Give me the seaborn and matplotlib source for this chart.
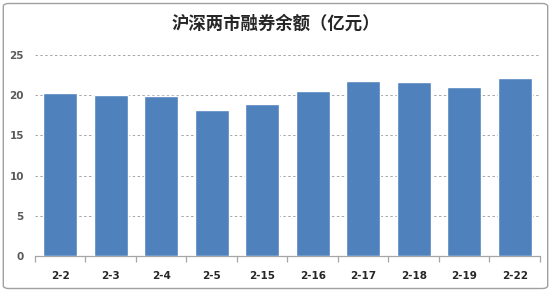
import matplotlib
matplotlib.use("Agg")
import matplotlib.pyplot as plt
import seaborn as sns
import pandas as pd
from matplotlib.patches import FancyBboxPatch

dates = ["2-2", "2-3", "2-4", "2-5", "2-15", "2-16", "2-17", "2-18", "2-19", "2-22"]
values = [20.3, 20.05, 19.95, 18.1, 18.9, 20.5, 21.75, 21.6, 21.0, 22.2]
title = "沪深两市融券余额（亿元）"
yticks = [0, 5, 10, 15, 20, 25]

sns.set_theme(style="white")
plt.rcParams['font.family'] = ['Noto Sans CJK SC', 'DejaVu Sans']

df = pd.DataFrame({"date": dates, "value": values})

fig = plt.figure(figsize=(5.51, 2.92), dpi=100)
ax = fig.add_axes([0.0635, 0.1233, 0.9165, 0.6883])

sns.barplot(data=df, x="date", y="value", color="#4F81BD", saturation=1,
            width=0.67, ax=ax, zorder=3)

ax.set_ylim(0, 25)
ax.set_xlim(-0.5, len(dates) - 0.5)
ax.set_yticks(yticks)
ax.yaxis.grid(True, linestyle=(0, (2.5, 2.5)), color="#A6A6A6", linewidth=0.7, zorder=0)
ax.xaxis.grid(False)
ax.set_xlabel("")
ax.set_ylabel("")

for s in ["top", "right", "left"]:
    ax.spines[s].set_visible(False)
ax.spines["bottom"].set_color("#A6A6A6")
ax.spines["bottom"].set_linewidth(0.9)

ax.set_xticks([i - 0.5 for i in range(len(dates) + 1)], minor=True)
ax.tick_params(axis="x", which="minor", length=4, color="#A6A6A6", width=0.9, direction="out", bottom=True)
ax.tick_params(axis="x", which="major", length=0, pad=11)
ax.tick_params(axis="y", length=0, pad=8)

for lab in ax.get_xticklabels():
    lab.set_fontsize(7.5)
    lab.set_fontweight("bold")
    lab.set_color("#262626")
    lab.set_family(["DejaVu Sans"])
for lab in ax.get_yticklabels():
    lab.set_fontsize(7.5)
    lab.set_fontweight("bold")
    lab.set_color("#595959")
    lab.set_family(["DejaVu Sans"])

fig.text(0.5, 0.92, title, ha="center", va="center", fontsize=12.5, fontweight="bold",
         color="#262626", family=['Noto Sans CJK SC', 'DejaVu Sans'])

border = FancyBboxPatch((0.006, 0.012), 0.988, 0.976, boxstyle="round,pad=0,rounding_size=0.01",
                        transform=fig.transFigure, fill=False, edgecolor="#A0A0A0", linewidth=1.0)
fig.patches.append(border)

fig.savefig("out.png", dpi=100)
